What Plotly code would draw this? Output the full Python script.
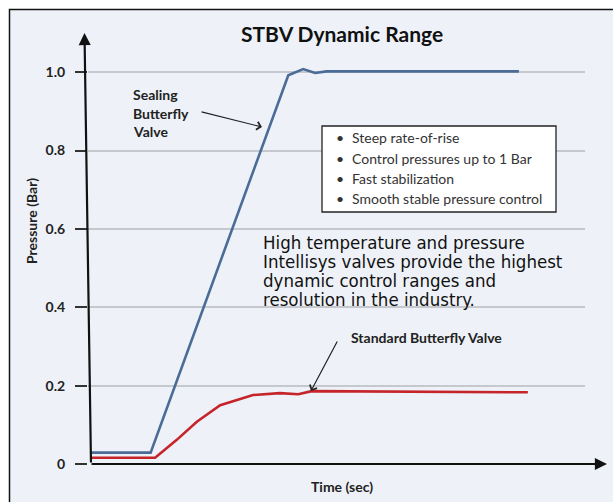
import plotly.graph_objects as go

# ---------------- data ----------------
time_sealing = [0.6, 12.6, 40.3, 43.3, 45.7, 48.0, 86.7]
pressure_sealing = [0.029, 0.029, 0.992, 1.008, 0.998, 1.002, 1.002]

time_standard = [0.6, 13.5, 17.8, 21.9, 26.6, 29.2, 33.2, 38.6, 42.3, 45.0, 88.5]
pressure_standard = [0.016, 0.016, 0.061, 0.108, 0.150, 0.161, 0.176, 0.181, 0.178, 0.186, 0.183]

ytick_vals = [0, 0.2, 0.4, 0.6, 0.8, 1.0]
ytick_text = ["0", "0.2", "0.4", "0.6", "0.8", "1.0"]

title_text = "STBV Dynamic Range"
x_title = "Time (sec)"
y_title = "Pressure (Bar)"
sealing_label = ["Sealing", "Butterfly", "Valve"]
standard_label = "Standard Butterfly Valve"
bullet_lines = ["Steep rate-of-rise", "Control pressures up to 1 Bar",
                "Fast stabilization", "Smooth stable pressure control"]
blurb_lines = ["High temperature and pressure", "Intellisys valves provide the highest",
               "dynamic control ranges and", "resolution in the industry."]

# ---------------- layout geometry (pixels) ----------------
W, H = 613, 502
L, R, T, B = 88, 585, 33, 464


def PX(x):
    return (x - L) / (R - L)


def PY(y):
    return (B - y) / (B - T)


FONT = "Lato, 'Open Sans', sans-serif"
BLURB_FONT = "'Liberation Sans Narrow', 'DejaVu Sans Condensed', Lato, sans-serif"
BG = "#eef2f8"

fig = go.Figure()
fig.add_trace(go.Scatter(x=time_sealing, y=pressure_sealing, mode="lines",
                         line=dict(color="#4b6c97", width=2.6), hoverinfo="skip",
                         name="Sealing Butterfly Valve"))
fig.add_trace(go.Scatter(x=time_standard, y=pressure_standard, mode="lines",
                         line=dict(color="#c5242b", width=2.6), hoverinfo="skip",
                         name="Standard Butterfly Valve"))

shapes = [
    dict(type="rect", xref="paper", yref="paper", x0=PX(9.5), x1=PX(660),
         y0=PY(540), y1=PY(9.5), fillcolor=BG, line=dict(color="#111111", width=1.5),
         layer="below"),
    dict(type="rect", xref="paper", yref="paper", x0=PX(322), x1=PX(556),
         y0=PY(212), y1=PY(126), fillcolor="white", line=dict(color="#222222", width=1.3)),
]

ann = []
ann.append(dict(text=title_text, xref="paper", yref="paper",
                x=PX(342), y=PY(34), showarrow=False, xanchor="center", yanchor="middle",
                font=dict(family=FONT, size=21, color="#111111", weight="bold")))
ann.append(dict(text=x_title, xref="paper", yref="paper",
                x=PX(342), y=PY(487), showarrow=False, xanchor="center", yanchor="middle",
                font=dict(family=FONT, size=14, color="#222222", weight="bold")))
ann.append(dict(text=y_title, xref="paper", yref="paper", textangle=-90,
                x=PX(31), y=PY(221), showarrow=False, xanchor="center", yanchor="middle",
                font=dict(family=FONT, size=14, color="#222222", weight="bold")))
# axis arrows
ann.append(dict(text="", xref="paper", yref="paper", x=PX(84.5), y=PY(33),
                ax=91 - 84.5, ay=464 - 33, showarrow=True, arrowhead=2, arrowsize=1.1,
                arrowwidth=2.2, arrowcolor="#111111"))
ann.append(dict(text="", xref="paper", yref="paper", x=PX(607), y=PY(464),
                ax=90 - 607, ay=0, showarrow=True, arrowhead=2, arrowsize=1.1,
                arrowwidth=2.2, arrowcolor="#111111"))
# sealing label
for i, s in enumerate(sealing_label):
    ann.append(dict(text=s, xref="paper", yref="paper",
                    x=PX(131), y=PY(94.5 + 18.6 * i), showarrow=False,
                    xanchor="left", yanchor="middle",
                    font=dict(family=FONT, size=14, color="#222222", weight="bold")))
ann.append(dict(text="", xref="paper", yref="paper", x=PX(262), y=PY(127),
                ax=200 - 262, ay=111.5 - 127, showarrow=True, arrowhead=4,
                arrowsize=1.3, arrowwidth=1.2, arrowcolor="#222222"))
# standard label
ann.append(dict(text=standard_label, xref="paper", yref="paper",
                x=PX(349), y=PY(337), showarrow=False, xanchor="left", yanchor="middle",
                font=dict(family=FONT, size=14, color="#222222", weight="bold")))
ann.append(dict(text="", xref="paper", yref="paper", x=PX(311), y=PY(391),
                ax=338 - 311, ay=340 - 391, showarrow=True, arrowhead=4,
                arrowsize=1.3, arrowwidth=1.2, arrowcolor="#222222"))
# bullet list
for i, s in enumerate(bullet_lines):
    yy = PY(138 + 20 * i)
    ann.append(dict(text="\u2022", xref="paper", yref="paper", x=PX(340), y=yy,
                    showarrow=False, xanchor="center", yanchor="middle",
                    font=dict(family=FONT, size=14, color="#333333")))
    ann.append(dict(text=s, xref="paper", yref="paper", x=PX(350), y=yy,
                    showarrow=False, xanchor="left", yanchor="middle",
                    font=dict(family=FONT, size=14, color="#333333")))
# blurb
for i, s in enumerate(blurb_lines):
    ann.append(dict(text=s, xref="paper", yref="paper", x=PX(261), y=PY(242 + 19.3 * i),
                    showarrow=False, xanchor="left", yanchor="middle",
                    font=dict(family=BLURB_FONT, size=18.5, color="#111111")))

fig.update_layout(
    width=W, height=H,
    margin=dict(l=L, r=W - R, t=T, b=H - B, pad=0),
    paper_bgcolor="white", plot_bgcolor="rgba(0,0,0,0)",
    showlegend=False,
    shapes=shapes, annotations=ann,
    xaxis=dict(range=[0, 100], showgrid=False, zeroline=False, showline=False,
               showticklabels=False, ticks="", fixedrange=True),
    yaxis=dict(range=[0, 1.1], tickvals=ytick_vals, ticktext=ytick_text,
               showgrid=True, gridcolor="#c5c8cc", gridwidth=1.5, zeroline=False,
               showline=False, ticks="outside", ticklen=12, tickwidth=1.5,
               tickcolor="#333333", ticklabelstandoff=7,
               tickfont=dict(family=FONT, size=14, color="#222222", weight="bold"),
               fixedrange=True),
)

fig.write_html("out.html", config={"displayModeBar": False},
               post_script="document.body.style.margin='0';document.body.style.padding='0';")
